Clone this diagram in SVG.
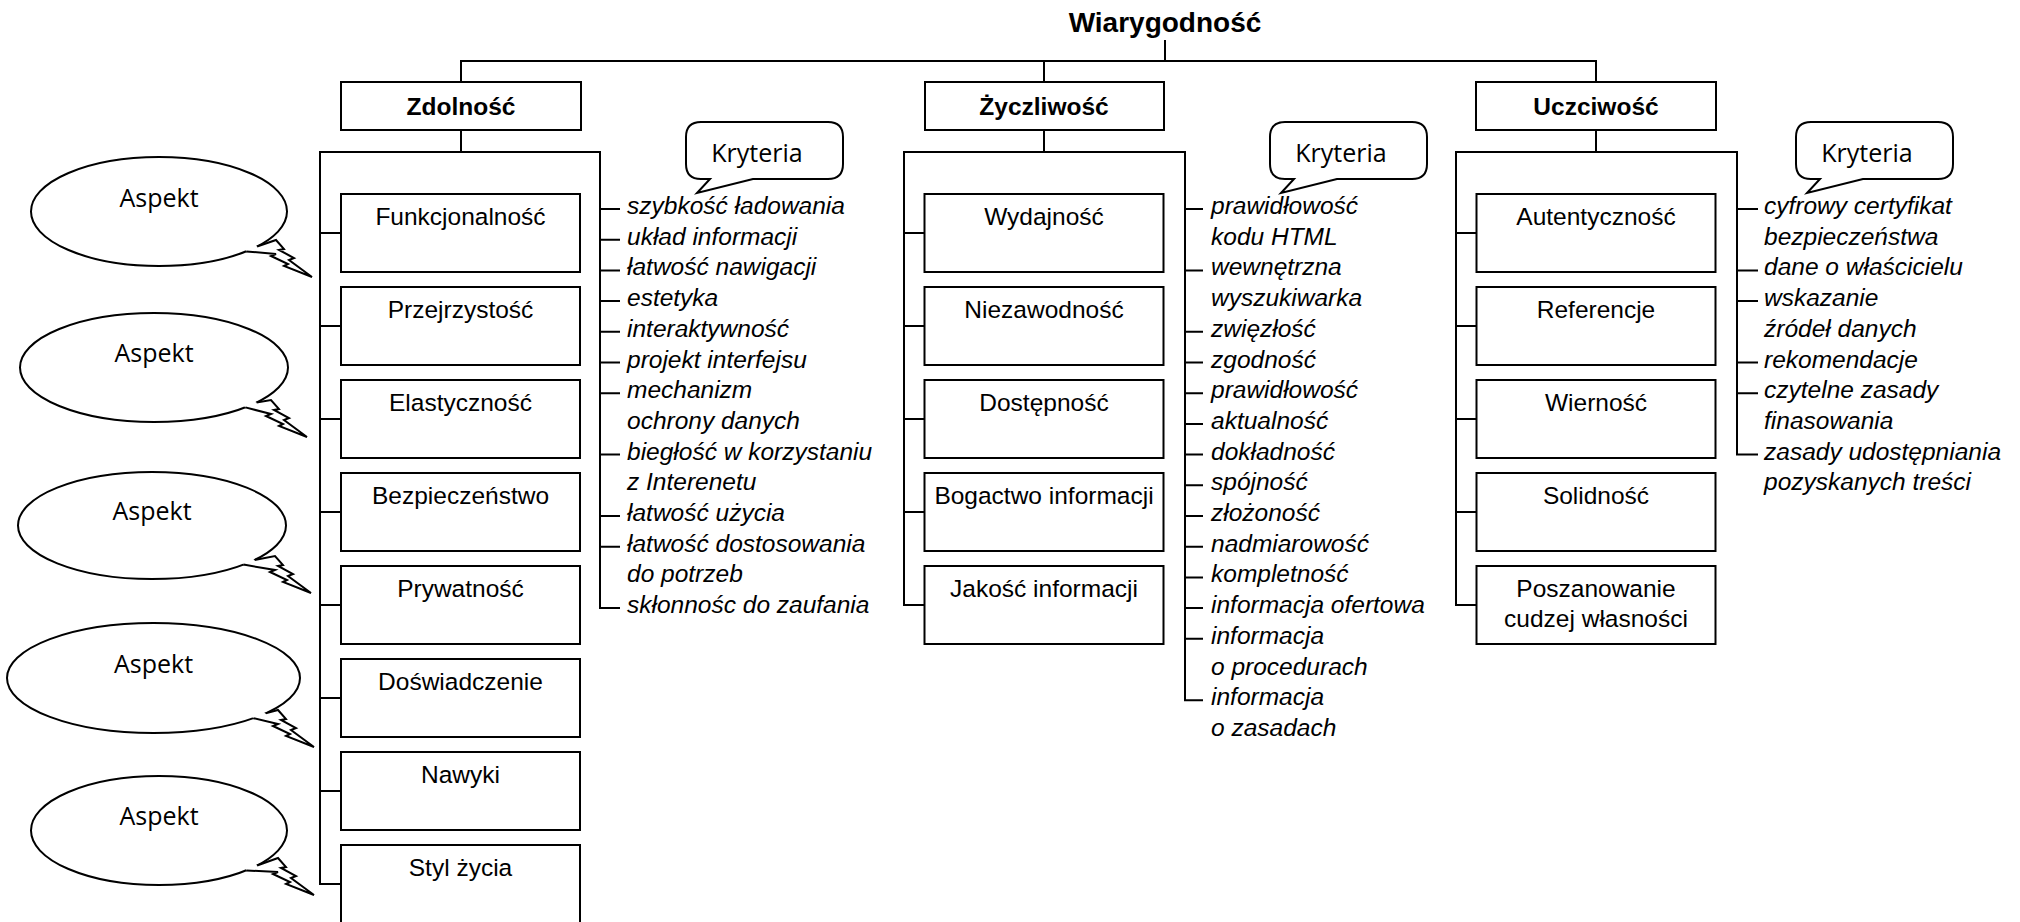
<svg xmlns="http://www.w3.org/2000/svg" width="2020" height="922" viewBox="0 0 2020 922">
<style>
.ln{stroke:#000;stroke-width:2;fill:none}
.bx{fill:#fff;stroke:#000;stroke-width:2}
.t{font-family:'Liberation Sans',Arial,sans-serif;font-size:24.5px;text-anchor:middle;fill:#000}
.h{font-weight:bold}
.ti{font-size:28px;font-weight:bold}
.it{font-family:'Liberation Sans',Arial,sans-serif;font-size:24.5px;font-style:italic;fill:#000}
.c{font-family:'Open Sans',sans-serif;font-size:25px;text-anchor:middle;fill:#000}
.el{fill:#fff;stroke:#000;stroke-width:2}
.bf{fill:#fff;stroke:none}
</style>
<defs>
<path id="callout" d="M701,122 H828 Q843,122 843,137 V164 Q843,179 828,179 H753 L697,193 L710,179 H701 Q686,179 686,164 V137 Q686,122 701,122 Z"/>
</defs>
<rect width="2020" height="922" fill="#fff"/>

<g id="connectors" class="ln">
<path d="M1165,40 V61 M461,82 V61 H1596 V82 M1044,61 V82"/>
<path d="M461,130 V152 M1044,130 V152 M1596,130 V152"/>
<path d="M341,884 H320 V152 H600 V608.1 H620"/>
<path d="M320,233 H341 M320,326 H341 M320,419 H341 M320,512 H341 M320,605 H341 M320,698 H341 M320,791 H341"/>
<path d="M600,209 H620 M600,239.7 H620 M600,270.4 H620 M600,301.1 H620 M600,331.8 H620 M600,362.5 H620 M600,393.2 H620 M600,454.6 H620 M600,516 H620 M600,546.7 H620"/>
<path d="M924.5,605 H904 V152 H1185 V700.2 H1203"/>
<path d="M904,233 H924.5 M904,326 H924.5 M904,419 H924.5 M904,512 H924.5"/>
<path d="M1185,209 H1203 M1185,270.4 H1203 M1185,331.8 H1203 M1185,362.5 H1203 M1185,393.2 H1203 M1185,423.9 H1203 M1185,454.6 H1203 M1185,485.3 H1203 M1185,516 H1203 M1185,546.7 H1203 M1185,577.4 H1203 M1185,608.1 H1203 M1185,638.8 H1203"/>
<path d="M1476.5,605 H1456 V152 H1737 V454.6 H1758"/>
<path d="M1456,233 H1476.5 M1456,326 H1476.5 M1456,419 H1476.5 M1456,512 H1476.5"/>
<path d="M1737,209 H1758 M1737,270.4 H1758 M1737,301.1 H1758 M1737,362.5 H1758 M1737,393.2 H1758"/>
</g>

<g id="title"><text class="t ti" x="1165" y="32">Wiarygodność</text></g>

<g id="zdolnosc"><rect class="bx" x="341" y="82" width="240" height="48"/><text class="t h" x="461" y="115">Zdolność</text></g>
<g id="zyczliwosc"><rect class="bx" x="925" y="82" width="239" height="48"/><text class="t h" x="1044" y="115">Życzliwość</text></g>
<g id="uczciwosc"><rect class="bx" x="1476" y="82" width="240" height="48"/><text class="t h" x="1596" y="115">Uczciwość</text></g>

<g id="funkcjonalnosc"><rect class="bx" x="341" y="194" width="239" height="78"/><text class="t" x="460.5" y="224.5">Funkcjonalność</text></g>
<g id="przejrzystosc"><rect class="bx" x="341" y="287" width="239" height="78"/><text class="t" x="460.5" y="317.5">Przejrzystość</text></g>
<g id="elastycznosc"><rect class="bx" x="341" y="380" width="239" height="78"/><text class="t" x="460.5" y="410.5">Elastyczność</text></g>
<g id="bezpieczenstwo"><rect class="bx" x="341" y="473" width="239" height="78"/><text class="t" x="460.5" y="503.5">Bezpieczeństwo</text></g>
<g id="prywatnosc"><rect class="bx" x="341" y="566" width="239" height="78"/><text class="t" x="460.5" y="596.5">Prywatność</text></g>
<g id="doswiadczenie"><rect class="bx" x="341" y="659" width="239" height="78"/><text class="t" x="460.5" y="689.5">Doświadczenie</text></g>
<g id="nawyki"><rect class="bx" x="341" y="752" width="239" height="78"/><text class="t" x="460.5" y="782.5">Nawyki</text></g>
<g id="styl-zycia"><rect class="bx" x="341" y="845" width="239" height="78"/><text class="t" x="460.5" y="875.5">Styl życia</text></g>

<g id="wydajnosc"><rect class="bx" x="924.5" y="194" width="239" height="78"/><text class="t" x="1044" y="224.5">Wydajność</text></g>
<g id="niezawodnosc"><rect class="bx" x="924.5" y="287" width="239" height="78"/><text class="t" x="1044" y="317.5">Niezawodność</text></g>
<g id="dostepnosc"><rect class="bx" x="924.5" y="380" width="239" height="78"/><text class="t" x="1044" y="410.5">Dostępność</text></g>
<g id="bogactwo"><rect class="bx" x="924.5" y="473" width="239" height="78"/><text class="t" x="1044" y="503.5">Bogactwo informacji</text></g>
<g id="jakosc"><rect class="bx" x="924.5" y="566" width="239" height="78"/><text class="t" x="1044" y="596.5">Jakość informacji</text></g>

<g id="autentycznosc"><rect class="bx" x="1476.5" y="194" width="239" height="78"/><text class="t" x="1596" y="224.5">Autentyczność</text></g>
<g id="referencje"><rect class="bx" x="1476.5" y="287" width="239" height="78"/><text class="t" x="1596" y="317.5">Referencje</text></g>
<g id="wiernosc"><rect class="bx" x="1476.5" y="380" width="239" height="78"/><text class="t" x="1596" y="410.5">Wierność</text></g>
<g id="solidnosc"><rect class="bx" x="1476.5" y="473" width="239" height="78"/><text class="t" x="1596" y="503.5">Solidność</text></g>
<g id="poszanowanie"><rect class="bx" x="1476.5" y="566" width="239" height="78"/><text class="t" x="1596" y="597">Poszanowanie</text><text class="t" x="1596" y="627">cudzej własności</text></g>

<g id="kryteria-1"><use href="#callout" class="bx"/><text class="c" x="757" y="162">Kryteria</text></g>
<g id="kryteria-2"><use href="#callout" class="bx" transform="translate(584,0)"/><text class="c" x="1341" y="162">Kryteria</text></g>
<g id="kryteria-3"><use href="#callout" class="bx" transform="translate(1110,0)"/><text class="c" x="1867" y="162">Kryteria</text></g>

<g id="kryteria-list-1" class="it">
<text x="627" y="214">szybkość ładowania</text>
<text x="627" y="244.7">układ informacji</text>
<text x="627" y="275.4">łatwość nawigacji</text>
<text x="627" y="306.1">estetyka</text>
<text x="627" y="336.8">interaktywność</text>
<text x="627" y="367.5">projekt interfejsu</text>
<text x="627" y="398.2">mechanizm</text>
<text x="627" y="428.9">ochrony danych</text>
<text x="627" y="459.6">biegłość w korzystaniu</text>
<text x="627" y="490.3">z Interenetu</text>
<text x="627" y="521">łatwość użycia</text>
<text x="627" y="551.7">łatwość dostosowania</text>
<text x="627" y="582.4">do potrzeb</text>
<text x="627" y="613.1">skłonnośc do zaufania</text>
</g>

<g id="kryteria-list-2" class="it">
<text x="1211" y="214">prawidłowość</text>
<text x="1211" y="244.7">kodu HTML</text>
<text x="1211" y="275.4">wewnętrzna</text>
<text x="1211" y="306.1">wyszukiwarka</text>
<text x="1211" y="336.8">zwięzłość</text>
<text x="1211" y="367.5">zgodność</text>
<text x="1211" y="398.2">prawidłowość</text>
<text x="1211" y="428.9">aktualność</text>
<text x="1211" y="459.6">dokładność</text>
<text x="1211" y="490.3">spójność</text>
<text x="1211" y="521">złożoność</text>
<text x="1211" y="551.7">nadmiarowość</text>
<text x="1211" y="582.4">kompletność</text>
<text x="1211" y="613.1">informacja ofertowa</text>
<text x="1211" y="643.8">informacja</text>
<text x="1211" y="674.5">o procedurach</text>
<text x="1211" y="705.2">informacja</text>
<text x="1211" y="735.9">o zasadach</text>
</g>

<g id="kryteria-list-3" class="it">
<text x="1764" y="214">cyfrowy certyfikat</text>
<text x="1764" y="244.7">bezpieczeństwa</text>
<text x="1764" y="275.4">dane o właścicielu</text>
<text x="1764" y="306.1">wskazanie</text>
<text x="1764" y="336.8">źródeł danych</text>
<text x="1764" y="367.5">rekomendacje</text>
<text x="1764" y="398.2">czytelne zasady</text>
<text x="1764" y="428.9">finasowania</text>
<text x="1764" y="459.6">zasady udostępniania</text>
<text x="1764" y="490.3">pozyskanych treści</text>
</g>

<g id="aspekt-1">
<ellipse class="el" cx="159" cy="211.5" rx="128" ry="54.5"/>
<path class="bf" d="M257.1,246.5 L276,240 L284,249 L279,250 L294,258 L289,260 L312,277 L284,266 L288,264 L271,256 L276,254 L246.3,251.4 L237,232 Z"/>
<path class="ln" d="M257.1,246.5 L276,240 L284,249 L279,250 L294,258 L289,260 L312,277 L284,266 L288,264 L271,256 L276,254 L246.3,251.4"/>
<text class="c" x="159" y="207">Aspekt</text>
</g>
<g id="aspekt-2">
<ellipse class="el" cx="154" cy="367.5" rx="134" ry="54.5"/>
<path class="bf" d="M256.6,402.5 L271,400 L279,409 L274,410 L289,418 L284,420 L307,437 L279,426 L283,424 L266,416 L271,414 L245.4,407.4 L232,392 Z"/>
<path class="ln" d="M256.6,402.5 L271,400 L279,409 L274,410 L289,418 L284,420 L307,437 L279,426 L283,424 L266,416 L271,414 L245.4,407.4"/>
<text class="c" x="154" y="362">Aspekt</text>
</g>
<g id="aspekt-3">
<ellipse class="el" cx="152" cy="525.5" rx="134" ry="53.5"/>
<path class="bf" d="M254.6,559.9 L275,556 L283,565 L278,566 L293,574 L288,576 L311,593 L283,582 L287,580 L270,572 L275,570 L243.4,564.6 L236,548 Z"/>
<path class="ln" d="M254.6,559.9 L275,556 L283,565 L278,566 L293,574 L288,576 L311,593 L283,582 L287,580 L270,572 L275,570 L243.4,564.6"/>
<text class="c" x="152" y="520">Aspekt</text>
</g>
<g id="aspekt-4">
<ellipse class="el" cx="153.5" cy="678" rx="146.5" ry="55"/>
<path class="bf" d="M265.7,713.4 L278,710 L286,719 L281,720 L296,728 L291,730 L314,747 L286,736 L290,734 L273,726 L278,724 L253.4,718.2 L239,702 Z"/>
<path class="ln" d="M265.7,713.4 L278,710 L286,719 L281,720 L296,728 L291,730 L314,747 L286,736 L290,734 L273,726 L278,724 L253.4,718.2"/>
<text class="c" x="153.5" y="673">Aspekt</text>
</g>
<g id="aspekt-5">
<ellipse class="el" cx="159" cy="830.5" rx="128" ry="54.5"/>
<path class="bf" d="M257.1,865.5 L278,858 L286,867 L281,868 L296,876 L291,878 L314,895 L286,884 L290,882 L273,874 L278,872 L246.3,870.4 L239,850 Z"/>
<path class="ln" d="M257.1,865.5 L278,858 L286,867 L281,868 L296,876 L291,878 L314,895 L286,884 L290,882 L273,874 L278,872 L246.3,870.4"/>
<text class="c" x="159" y="825">Aspekt</text>
</g>
</svg>
